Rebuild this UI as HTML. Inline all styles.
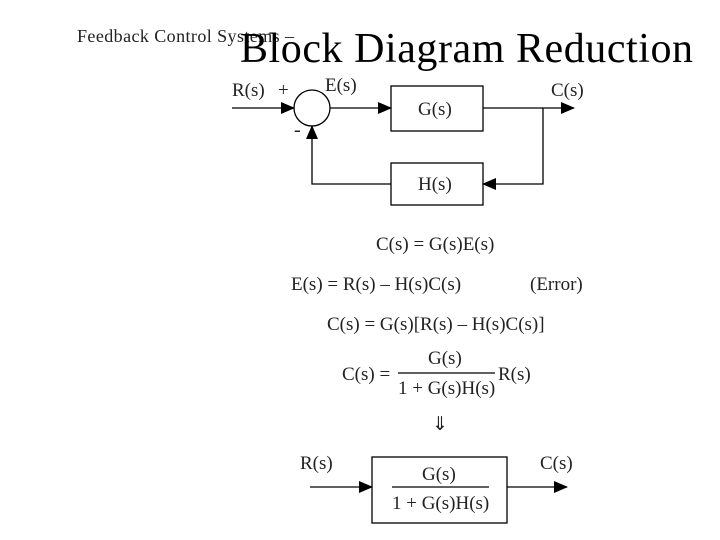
<!DOCTYPE html>
<html><head><meta charset="utf-8"><style>
html,body{margin:0;padding:0;background:#fff;}
svg{display:block;}
text{font-family:"Liberation Serif",serif;fill:#222;}
</style></head><body>
<svg width="720" height="540" viewBox="0 0 720 540" xmlns="http://www.w3.org/2000/svg">
<defs>
<marker id="b" markerWidth="14" markerHeight="12" refX="13" refY="6" orient="auto" markerUnits="userSpaceOnUse"><path d="M0,0 L14,6 L0,12 z" fill="#000"/></marker></defs>
<text x="77" y="42" font-size="18" textLength="217" fill="#333">Feedback Control Systems –</text>
<text x="240" y="62" font-size="42" textLength="453" style="fill:#000">Block Diagram Reduction</text>
<g stroke="#000" stroke-width="1.3" fill="none">
<line x1="232" y1="108" x2="294" y2="108" marker-end="url(#b)"/>
<circle cx="312" cy="108" r="18"/>
<line x1="330" y1="108" x2="391" y2="108" marker-end="url(#b)"/>
<rect x="391" y="86" width="92" height="45"/>
<line x1="483" y1="108" x2="574" y2="108" marker-end="url(#b)"/>
<polyline points="543,108 543,184 483,184" marker-end="url(#b)"/>
<rect x="391" y="163" width="92" height="42"/>
<polyline points="391,184 312,184 312,126" marker-end="url(#b)"/>
<rect x="372" y="457" width="135" height="66"/>
<line x1="310" y1="487" x2="372" y2="487" marker-end="url(#b)"/>
<line x1="507" y1="487" x2="567" y2="487" marker-end="url(#b)"/>
<line x1="392" y1="487" x2="489" y2="487"/>
<line x1="398" y1="373" x2="495" y2="373"/>
</g>
<g font-size="19">
<text x="232" y="96">R(s)</text>
<text x="278" y="96">+</text>
<text x="294" y="136" font-size="20">-</text>
<text x="325" y="91">E(s)</text>
<text x="551" y="96">C(s)</text>
<text x="418" y="115">G(s)</text>
<text x="418" y="190">H(s)</text>
<text x="376" y="250">C(s) = G(s)E(s)</text>
<text x="291" y="290">E(s) = R(s) – H(s)C(s)</text>
<text x="530" y="290">(Error)</text>
<text x="327" y="330">C(s) = G(s)[R(s) – H(s)C(s)]</text>
<text x="342" y="380">C(s) =</text>
<text x="428" y="364">G(s)</text>
<text x="398" y="394">1 + G(s)H(s)</text>
<text x="498" y="380">R(s)</text>
<text x="432" y="430">⇓</text>
<text x="300" y="469">R(s)</text>
<text x="540" y="469">C(s)</text>
<text x="422" y="480">G(s)</text>
<text x="392" y="509">1 + G(s)H(s)</text>
</g>
</svg>
</body></html>
